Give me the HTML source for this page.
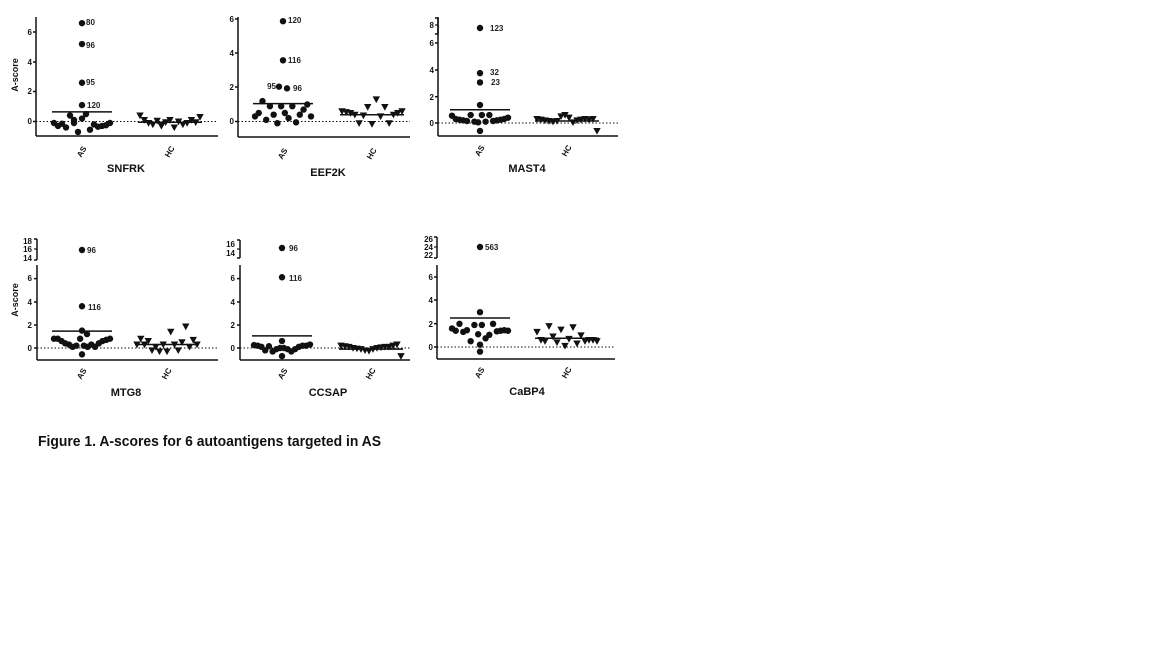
<!DOCTYPE html>
<html><head><meta charset="utf-8"><style>
html,body{margin:0;padding:0;background:#fff;}
svg{display:block;font-family:"Liberation Sans",Arial,sans-serif;}
</style></head><body>
<svg id="s" width="1152" height="648" viewBox="0 0 1152 648" xmlns="http://www.w3.org/2000/svg">
<rect width="1152" height="648" fill="#fff"/>
<g font-size="8" font-weight="bold" fill="#111">
<text transform="translate(18,75) rotate(-90)" text-anchor="middle" font-size="9">A-score</text>
<text transform="translate(18,300) rotate(-90)" text-anchor="middle" font-size="9">A-score</text>
<text x="126" y="172" text-anchor="middle" font-size="11">SNFRK</text>
<text x="328" y="176" text-anchor="middle" font-size="11">EEF2K</text>
<text x="527" y="172" text-anchor="middle" font-size="11">MAST4</text>
<text x="126" y="396" text-anchor="middle" font-size="11">MTG8</text>
<text x="328" y="396" text-anchor="middle" font-size="11">CCSAP</text>
<text x="527" y="395" text-anchor="middle" font-size="11">CaBP4</text>
<text transform="translate(84,153) rotate(-60)" text-anchor="middle">AS</text>
<text transform="translate(172,153) rotate(-60)" text-anchor="middle">HC</text>
<text transform="translate(285,155) rotate(-60)" text-anchor="middle">AS</text>
<text transform="translate(374,155) rotate(-60)" text-anchor="middle">HC</text>
<text transform="translate(482,152) rotate(-60)" text-anchor="middle">AS</text>
<text transform="translate(569,152) rotate(-60)" text-anchor="middle">HC</text>
<text transform="translate(84,375) rotate(-60)" text-anchor="middle">AS</text>
<text transform="translate(169,375) rotate(-60)" text-anchor="middle">HC</text>
<text transform="translate(285,375) rotate(-60)" text-anchor="middle">AS</text>
<text transform="translate(373,375) rotate(-60)" text-anchor="middle">HC</text>
<text transform="translate(482,374) rotate(-60)" text-anchor="middle">AS</text>
<text transform="translate(569,374) rotate(-60)" text-anchor="middle">HC</text>
<g text-anchor="end" font-size="8">
<text x="32" y="35">6</text><text x="32" y="65">4</text><text x="32" y="94">2</text><text x="32" y="124">0</text>
<text x="234" y="22">6</text><text x="234" y="56">4</text><text x="234" y="90">2</text><text x="234" y="124">0</text>
<text x="434" y="28">8</text><text x="434" y="46">6</text><text x="434" y="73">4</text><text x="434" y="100">2</text><text x="434" y="126">0</text>
<text x="32" y="244">18</text><text x="32" y="252">16</text><text x="32" y="261">14</text>
<text x="32" y="281">6</text><text x="32" y="305">4</text><text x="32" y="328">2</text><text x="32" y="351">0</text>
<text x="235" y="247">16</text><text x="235" y="256">14</text>
<text x="235" y="281">6</text><text x="235" y="305">4</text><text x="235" y="328">2</text><text x="235" y="351">0</text>
<text x="433" y="242">26</text><text x="433" y="250">24</text><text x="433" y="258">22</text>
<text x="433" y="280">6</text><text x="433" y="303">4</text><text x="433" y="327">2</text><text x="433" y="350">0</text>
</g>
<g font-weight="bold" font-size="8" fill="#222">
<text x="86" y="25">80</text><text x="86" y="48">96</text><text x="86" y="85">95</text><text x="87" y="108">120</text>
<text x="288" y="23">120</text><text x="288" y="63">116</text><text x="276" y="89" text-anchor="end">95</text><text x="293" y="91">96</text>
<text x="490" y="31">123</text><text x="490" y="75">32</text><text x="491" y="85">23</text>
<text x="87" y="253">96</text><text x="88" y="310">116</text>
<text x="289" y="251">96</text><text x="289" y="281">116</text>
<text x="485" y="250">563</text>
</g>
</g>
<text x="38" y="446" font-size="14.5" font-weight="bold" fill="#111" textLength="343" lengthAdjust="spacingAndGlyphs">Figure 1. A-scores for 6 autoantigens targeted in AS</text>
<g id="plots" stroke="#111" fill="#111"></g>
</svg>
<script>
var g=document.getElementById('plots'),NS='http://www.w3.org/2000/svg';
function el(n,a){var e=document.createElementNS(NS,n);for(var k in a)e.setAttribute(k,a[k]);g.appendChild(e);return e;}
function line(x1,y1,x2,y2,w,d){var a={x1:x1,y1:y1,x2:x2,y2:y2,'stroke-width':w||1.5};if(d)a['stroke-dasharray']=d;el('line',a);}
function dot(x,y){el('circle',{cx:x,cy:y,r:3.2,stroke:'none'});}
function tri(x,y){el('polygon',{points:(x-3.7)+','+(y-3)+' '+(x+3.7)+','+(y-3)+' '+x+','+(y+3.7),stroke:'none'});}
function panel(p){
 var Y=function(v){return p.z-v*p.u;};
 line(p.ax,p.top,p.ax,p.bot,1.5);
 line(p.ax,p.bot,p.right,p.bot,1.5);
 p.ticks.forEach(function(t){line(p.ax-3,t,p.ax,t,1.5);});
 if(p.brk){line(p.ax,p.brk[0],p.ax,p.brk[1],1.5);line(p.ax-3,p.brk[0],p.ax,p.brk[0],1.5);line(p.ax-3,p.brk[1],p.ax,p.brk[1],1.5);p.bt.forEach(function(t){line(p.ax-3,t,p.ax,t,1.2);});}
 line(p.ax,p.z,p.right,p.z,1,'1.5,2');
 p.as.forEach(function(v,i){var n=p.as.length;var dx=-28+56*i/(n-1);dot(p.asx+dx,Y(v));});
 p.out.forEach(function(o){dot(p.asx+(o[2]||0),o[0]==='y'?o[1]:Y(o[0]));});
 line(p.asx-30,Y(p.asm),p.asx+30,Y(p.asm),1.5);
 p.hc.forEach(function(v,i){var n=p.hc.length;var dx=-30+60*i/(n-1);tri(p.hcx+dx,Y(v));});
 line(p.hcx-32,Y(p.hcm),p.hcx+32,Y(p.hcm),1.5);
}
var d1=[-0.1,-0.3,-0.15,-0.4,0.4,0.1,-0.7,0.2,0.5,-0.55,-0.2,-0.35,-0.3,-0.25,-0.1];
panel({ax:36,top:17,bot:136,right:218,z:121.5,u:14.9,ticks:[32,62,91.5,121.5],asx:82,hcx:170,
 as:d1,out:[[6.6],[5.2],[2.6],[1.1],[-0.1,0,-8]],asm:0.65,
 hc:[0.4,0.1,-0.1,-0.2,0.05,-0.3,-0.05,0.1,-0.4,0,-0.2,-0.1,0.1,-0.05,0.3],hcm:-0.05});
panel({ax:238,top:17,bot:137,right:410,z:121.5,u:17,ticks:[19,53,87,121.5],asx:283,hcx:372,
 as:[0.3,0.5,1.2,0.1,0.9,0.4,-0.1,0.9,0.5,0.2,0.9,-0.05,0.4,0.7,1,0.3],out:[[5.9],[3.6],[2.05,0,-4],[1.95,0,4]],asm:1.05,
 hc:[0.6,0.55,0.5,0.4,-0.1,0.35,0.85,-0.15,1.3,0.3,0.85,-0.1,0.4,0.5,0.6],hcm:0.4});
panel({ax:438,top:17,bot:136,right:618,z:123,u:13.3,ticks:[43,70,96.7,123],brk:[18,34],bt:[25],asx:480,hcx:567,
 as:[0.55,0.3,0.25,0.2,0.15,0.6,0.1,0.05,0.6,0.1,0.6,0.15,0.2,0.25,0.3,0.4],out:[['y',28],[3.75],[3.05],[1.35],[-0.6]],asm:1.0,
 hc:[0.3,0.25,0.2,0.15,0.1,0.15,0.5,0.6,0.4,0.05,0.2,0.25,0.3,0.25,0.3,-0.6],hcm:0.15});
panel({ax:37,top:265,bot:360,right:218,z:348,u:11.6,ticks:[278.6,302,325,348],brk:[239,260],bt:[249],asx:82,hcx:167,
 as:[0.8,0.8,0.6,0.4,0.3,0.1,0.2,0.8,0.2,0.1,0.3,0.1,0.4,0.6,0.7,0.8],out:[['y',250],[3.6],[1.5],[1.2,0,5],[-0.55]],asm:1.45,
 hc:[0.3,0.8,0.3,0.6,-0.2,0.1,-0.3,0.3,-0.3,1.4,0.3,-0.2,0.5,1.85,0.1,0.7,0.3],hcm:0.3});
panel({ax:240,top:265,bot:360,right:410,z:348,u:11.6,ticks:[278.6,302,325,348],brk:[240,258],bt:[249],asx:282,hcx:371,
 as:[0.25,0.2,0.1,-0.2,0.15,-0.3,-0.1,0,0,-0.1,-0.3,-0.1,0.1,0.2,0.2,0.3],out:[['y',248],[6.1],[0.6],[-0.7]],asm:1.05,
 hc:[0.2,0.15,0.1,0,-0.05,-0.1,-0.2,-0.25,-0.1,0,0.05,0.1,0.1,0.2,0.3,-0.7],hcm:-0.1});
panel({ax:437,top:265,bot:359,right:615,z:347,u:11.6,ticks:[277,300,323.7,347],brk:[237,258],bt:[247],asx:480,hcx:567,
 as:[1.6,1.4,2,1.3,1.45,0.5,1.9,1.1,1.9,0.75,1.05,2,1.35,1.4,1.45,1.4],out:[['y',247],[3],[0.2],[-0.4]],asm:2.5,
 hc:[1.3,0.6,0.5,1.8,0.9,0.4,1.5,0.1,0.7,1.7,0.3,1.0,0.5,0.6,0.6,0.5],hcm:0.75});
</script>
</body></html>
